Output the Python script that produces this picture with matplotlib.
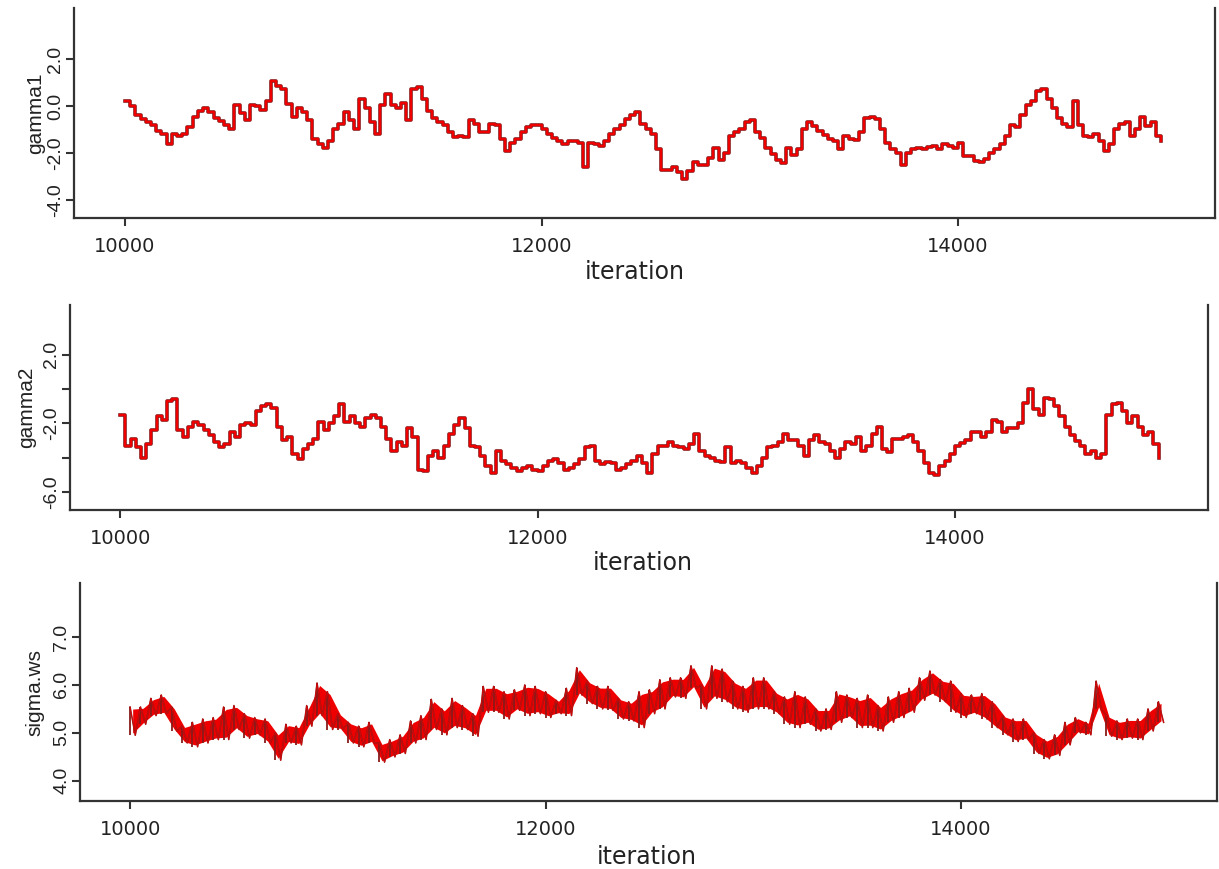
import numpy as np
import matplotlib
matplotlib.use("Agg")
import matplotlib.pyplot as plt

# MCMC trace values, one reading every 25 iterations from 10000
start_iter = 10000
step = 25

gamma1 = [
    0.23, -0.02, -0.39, -0.55, -0.68, -0.80, -1.05, -1.20, -1.60, -1.19,
    -1.30, -1.19, -0.90, -0.46, -0.20, -0.09, -0.24, -0.50, -0.65, -0.80,
    -0.97, 0.05, -0.30, -0.61, 0.05, -0.02, -0.17, 0.20, 1.08, 0.86,
    0.71, 0.10, -0.46, -0.09, -0.24, -0.60, -1.41, -1.63, -1.78, -1.50,
    -0.97, -0.75, -0.24, -0.61, -1.00, 0.30, -0.10, -0.70, -1.19, 0.05,
    0.49, 0.05, -0.09, 0.13, -0.61, 0.71, 0.79, 0.30, -0.20, -0.50,
    -0.70, -0.80, -1.10, -1.34, -1.27, -1.34, -0.61, -0.75, -1.12, -1.12,
    -0.75, -0.83, -1.40, -1.93, -1.56, -1.40, -1.10, -0.90, -0.83, -0.83,
    -0.97, -1.20, -1.35, -1.50, -1.63, -1.50, -1.50, -1.56, -2.60, -1.56,
    -1.60, -1.71, -1.50, -1.20, -0.97, -0.80, -0.55, -0.39, -0.24, -0.75,
    -1.00, -1.20, -1.85, -2.73, -2.73, -2.60, -2.80, -3.10, -2.75, -2.40,
    -2.50, -2.50, -2.20, -1.78, -2.29, -2.00, -1.30, -1.10, -1.00, -0.68,
    -0.61, -1.12, -1.35, -1.80, -2.05, -2.30, -2.44, -1.80, -2.10, -1.85,
    -0.97, -0.68, -0.85, -1.05, -1.25, -1.40, -1.49, -1.85, -1.27, -1.41,
    -1.45, -1.10, -0.50, -0.46, -0.55, -0.97, -1.56, -1.85, -2.00, -2.50,
    -2.00, -1.85, -1.78, -1.85, -1.75, -1.71, -1.85, -1.63, -1.70, -1.78,
    -1.56, -2.15, -2.15, -2.35, -2.40, -2.25, -2.00, -1.85, -1.60, -1.30,
    -0.80, -0.90, -0.39, 0.05, 0.20, 0.64, 0.71, 0.30, -0.10, -0.50,
    -0.75, -0.90, 0.20, -0.80, -1.27, -1.34, -1.20, -1.50, -1.90, -1.60,
    -0.97, -0.78, -0.68, -1.30, -1.00, -0.45, -0.85, -0.70, -1.30, -1.50,
]

gamma2 = [
    -1.5, -3.3, -2.9, -3.4, -4.0, -3.2, -2.4, -1.6, -1.8, -0.7,
    -0.6, -2.4, -2.8, -2.2, -1.9, -2.1, -2.4, -2.7, -3.1, -3.4,
    -3.2, -2.5, -2.8, -2.1, -2.0, -2.1, -1.3, -1.0, -0.85, -1.1,
    -2.2, -3.0, -2.8, -3.8, -4.1, -3.5, -3.2, -2.9, -1.9, -2.4,
    -2.0, -1.6, -0.9, -1.9, -1.6, -2.0, -2.2, -1.7, -1.5, -1.7,
    -2.2, -2.9, -3.6, -3.1, -3.3, -2.3, -2.8, -4.7, -4.8, -3.9,
    -3.6, -4.0, -3.3, -2.6, -2.1, -1.7, -2.3, -3.3, -3.4, -3.9,
    -4.5, -4.9, -3.6, -4.2, -4.4, -4.6, -4.8, -4.6, -4.5, -4.7,
    -4.8, -4.5, -4.2, -4.1, -4.3, -4.7, -4.6, -4.4, -4.1, -3.4,
    -3.3, -4.2, -4.4, -4.25, -4.3, -4.7, -4.6, -4.4, -4.2, -3.9,
    -4.3, -4.9, -3.8, -3.3, -3.3, -3.1, -3.3, -3.4, -3.5, -3.2,
    -2.6, -3.6, -3.9, -4.0, -4.2, -4.25, -3.4, -4.3, -4.2, -4.3,
    -4.6, -4.9, -4.5, -4.0, -3.4, -3.3, -3.1, -2.6, -3.0, -3.0,
    -3.3, -3.9, -3.0, -2.7, -3.1, -3.2, -3.6, -4.0, -3.5, -3.1,
    -3.2, -2.8, -3.6, -3.3, -2.6, -2.2, -3.5, -3.7, -2.9, -2.9,
    -2.8, -2.7, -3.1, -3.6, -4.3, -4.9, -5.0, -4.5, -4.2, -3.8,
    -3.3, -3.15, -3.0, -2.5, -2.5, -2.8, -2.5, -1.8, -1.9, -2.5,
    -2.3, -2.3, -2.0, -0.8, 0.0, -1.15, -1.5, -0.5, -0.6, -1.0,
    -1.6, -2.2, -2.7, -3.05, -3.3, -3.8, -3.6, -4.0, -3.8, -1.5,
    -0.9, -0.8, -1.3, -2.0, -1.6, -2.2, -2.7, -2.5, -3.2, -4.0,
]

# sigma.ws: upper and lower excursion within each block of 50 iterations
sigma_upper = [
    5.54, 5.54, 5.72, 5.79, 5.54, 5.14, 5.22, 5.29, 5.32, 5.54,
    5.57, 5.40, 5.32, 5.29, 5.00, 5.18, 5.14, 5.57, 6.04, 5.86,
    5.40, 5.22, 5.14, 5.22, 4.79, 4.86, 4.96, 5.25, 5.36, 5.70,
    5.50, 5.72, 5.57, 5.40, 5.97, 5.97, 5.86, 5.90, 6.00, 5.97,
    5.86, 5.68, 5.93, 6.36, 6.08, 5.97, 5.97, 5.72, 5.65, 5.86,
    5.90, 6.11, 6.15, 6.15, 6.40, 6.00, 6.40, 6.33, 6.08, 5.97,
    6.15, 6.15, 5.86, 5.75, 5.86, 5.75, 5.50, 5.50, 5.86, 5.79,
    5.72, 5.79, 5.57, 5.75, 5.86, 5.93, 6.15, 6.29, 6.11, 6.08,
    5.82, 5.79, 5.82, 5.65, 5.36, 5.29, 5.29, 5.00, 4.86, 4.96,
    5.22, 5.32, 5.22, 6.08, 5.36, 5.25, 5.29, 5.29, 5.50, 5.65,
]
sigma_lower = [
    4.95, 5.18, 5.36, 5.40, 5.04, 4.79, 4.71, 4.79, 4.86, 4.86,
    5.07, 4.89, 4.96, 4.79, 4.43, 4.79, 4.75, 5.14, 5.36, 5.07,
    5.07, 4.79, 4.71, 4.79, 4.39, 4.50, 4.57, 4.79, 4.86, 5.07,
    4.96, 5.11, 5.07, 4.93, 5.43, 5.43, 5.29, 5.47, 5.36, 5.40,
    5.32, 5.40, 5.36, 5.79, 5.61, 5.50, 5.47, 5.29, 5.25, 5.11,
    5.40, 5.50, 5.75, 5.72, 5.93, 5.50, 5.72, 5.65, 5.50, 5.43,
    5.50, 5.50, 5.40, 5.18, 5.11, 5.18, 5.04, 5.07, 5.22, 5.32,
    5.11, 5.11, 5.04, 5.22, 5.32, 5.43, 5.68, 5.79, 5.65, 5.43,
    5.32, 5.40, 5.29, 5.11, 4.96, 4.82, 4.86, 4.57, 4.46, 4.53,
    4.75, 5.00, 4.96, 5.50, 4.93, 4.86, 4.89, 4.86, 5.04, 5.22,
]

x_ticks = [10000, 12000, 14000]
x_label = "iteration"

panels = [
    dict(name="gamma1", ylim=(-4.77, 4.17), xlim=(9755, 15234),
         yticks=[-4.0, -2.0, 0.0, 2.0], ylabels=["-4.0", "-2.0", "0.0", "2.0"],
         rect=[74, 8, 1215, 218], ylab_x=45, xlab=(635, 272)),
    dict(name="gamma2", ylim=(-7.06, 4.9), xlim=(9760, 15212),
         yticks=[-6.0, -4.0, -2.0, 0.0, 2.0], ylabels=["-6.0", "", "-2.0", "", "2.0"],
         rect=[70, 305, 1208, 510], ylab_x=36, xlab=(643, 563)),
    dict(name="sigma.ws", ylim=(3.58, 8.125), xlim=(9759, 15232),
         yticks=[4.0, 5.0, 6.0, 7.0], ylabels=["4.0", "5.0", "6.0", "7.0"],
         rect=[80, 583, 1217, 801], ylab_x=44, xlab=(647, 857)),
]

W, H = 1219, 869
fig = plt.figure(figsize=(W / 100, H / 100), dpi=100)
fig.patch.set_facecolor("white")

axis_col = "#333333"
text_col = "#222222"
red = "#ee0000"
dark = "#8a1a1a"

iters = start_iter + step * np.arange(len(gamma1))
iters2 = start_iter + step * np.arange(len(gamma2))

# sigma.ws chain: zig-zag between the block extremes over a dense core
s_up = np.array(sigma_upper)
s_lo = np.array(sigma_lower)
sig = np.empty(2 * len(s_up))
sig[0::2] = s_up
sig[1::2] = s_lo
iters3 = start_iter + step * np.arange(len(sig))
blocks = start_iter + 2 * step * np.arange(len(s_up)) + step / 2
s_mid = (s_up + s_lo) / 2
s_half = (s_up - s_lo) / 2

axes = []
for p in panels:
    l, t, r, b = p["rect"]
    ax = fig.add_axes([l / W, 1 - b / H, (r - l) / W, (b - t) / H])
    axes.append(ax)

# gamma chains
for ax, xs, ys in [(axes[0], iters, np.array(gamma1)), (axes[1], iters2, np.array(gamma2))]:
    ax.plot(xs, ys, drawstyle="steps-post", color=dark, lw=2.6)
    ax.plot(xs, ys, drawstyle="steps-post", color=red, lw=1.5)

ax = axes[2]
ax.vlines(iters3[0::2], s_lo, s_up, color=dark, lw=1.3)
ax.plot(iters3, sig, color=dark, lw=1.1)
ax.fill_between(blocks, s_mid - 0.85 * s_half, s_mid + 0.85 * s_half,
                color=red, lw=0)
ax.plot(iters3, sig, color=red, lw=0.7, alpha=0.7)

for p, ax in zip(panels, axes):
    l, t, r, b = p["rect"]
    ax.set_xlim(*p["xlim"])
    ax.set_ylim(*p["ylim"])
    for side in ["left", "bottom", "right"]:
        ax.spines[side].set_color(axis_col)
        ax.spines[side].set_linewidth(1.6)
    ax.spines["top"].set_visible(False)

    ax.set_xticks(x_ticks)
    ax.set_xticklabels([str(v) for v in x_ticks], fontsize=14,
                       family="DejaVu Sans", color=text_col)
    ax.set_yticks(p["yticks"])
    ax.set_yticklabels(p["ylabels"], fontsize=14, family="Liberation Sans",
                       color=text_col, rotation=90, va="center")
    ax.tick_params(axis="both", direction="out", length=6, width=1.5,
                   color=axis_col)
    ax.tick_params(axis="x", pad=8)
    ax.tick_params(axis="y", pad=1)
    ax.tick_params(right=False, top=False)

    # axis titles
    fig.text(p["xlab"][0] / W, 1 - p["xlab"][1] / H, x_label, fontsize=17,
             family="DejaVu Sans", color=text_col, ha="center", va="center")
    fig.text(p["ylab_x"] / W, 1 - ((t + b) / 2) / H, p["name"], fontsize=15,
             family="Liberation Sans", color=text_col, rotation=90,
             ha="right", va="center")

fig.savefig("out.png", dpi=100, facecolor="white")
